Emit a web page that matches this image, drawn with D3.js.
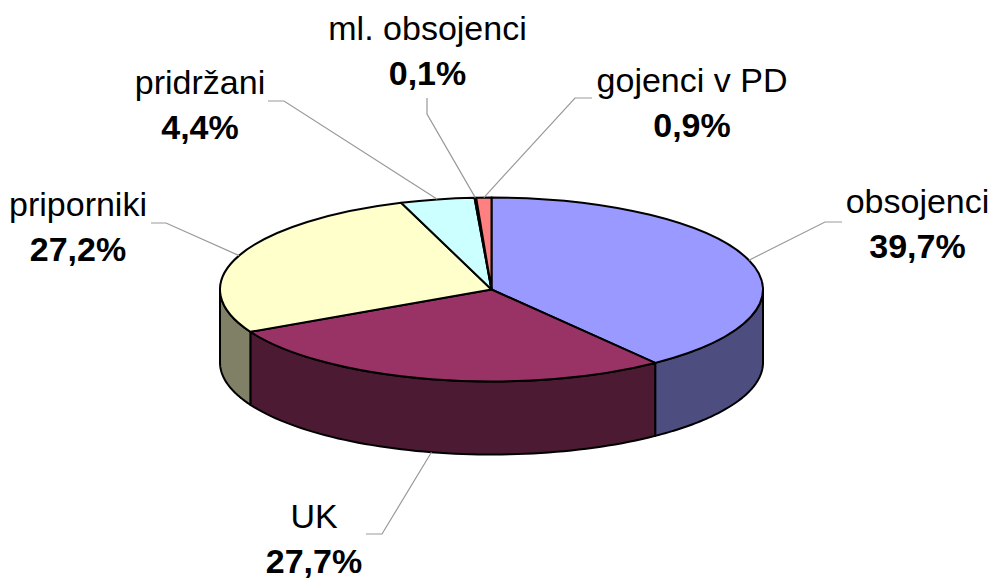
<!DOCTYPE html>
<html>
<head>
<meta charset="utf-8">
<script src="https://cdn.jsdelivr.net/npm/d3@7"></script>
<style>
  html, body { margin: 0; padding: 0; background: #fff; }
  svg { display: block; }
  text { font-family: "Liberation Sans", Arial, sans-serif; font-size: 34px; fill: #000; }
  .pct { font-weight: bold; }
</style>
</head>
<body>
<div id="chart"></div>
<script>
const categories = ["obsojenci", "UK", "priporniki", "pridržani", "ml. obsojenci", "gojenci v PD"];
const shares = [39.7, 27.7, 27.2, 4.4, 0.1, 0.9];
const shareLabels = ["39,7%", "27,7%", "27,2%", "4,4%", "0,1%", "0,9%"];
const topColors = ["#9999ff", "#993366", "#ffffcc", "#ccffff", "#660066", "#ff8080"];
const sideColors = ["#4d4d80", "#4d1a33", "#808066", "#668080", "#330033", "#804040"];

// where each label sits and where its leader line goes (elbow, then end)
const labelPos = [[917.5, 213], [314, 528], [78, 216], [200, 94], [427.5, 40], [692, 92]];
const leaderTail = [
  [[825, 222], [842, 222]],
  [[382, 534], [366, 534]],
  [[166, 223], [151, 223]],
  [[284, 101], [268, 101]],
  [[427, 114], [427, 98]],
  [[575, 98], [592, 98]]
];

const width = 994, height = 579;
const cx = 491.5, cy = 289.5, rx = 271.5, ry = 92, depth = 73;
const lineGap = 45;

const svg = d3.select("#chart").append("svg").attr("width", width).attr("height", height);

const pie = d3.pie().sort(null).value(d => d.share);
const slices = pie(categories.map((name, i) => ({
  name, share: shares[i], label: shareLabels[i], top: topColors[i], side: sideColors[i]
})));

const rim = (a, dy = 0) => [cx + rx * Math.sin(a), cy - ry * Math.cos(a) + dy];

// outer wall, only the part facing the viewer (PI/2 .. 3PI/2)
function wallPath(d) {
  const a0 = Math.max(d.startAngle, Math.PI / 2);
  const a1 = Math.min(d.endAngle, Math.PI * 1.5);
  if (a1 <= a0) return null;
  const angles = d3.range(0, 61).map(i => a0 + (a1 - a0) * i / 60);
  const pts = angles.map(a => rim(a)).concat(angles.slice().reverse().map(a => rim(a, depth)));
  return d3.line()(pts) + "Z";
}

svg.append("g").selectAll("path")
  .data(slices.filter(wallPath))
  .enter().append("path")
  .attr("d", wallPath)
  .attr("fill", d => d.data.side)
  .attr("stroke", "#000")
  .attr("stroke-width", 2)
  .attr("stroke-linejoin", "round");

const arc = d3.arc().innerRadius(0).outerRadius(rx);

svg.append("g")
  .attr("transform", `translate(${cx},${cy}) scale(1,${ry / rx})`)
  .selectAll("path")
  .data(slices)
  .enter().append("path")
  .attr("d", arc)
  .attr("fill", d => d.data.top)
  .attr("stroke", "#000")
  .attr("stroke-width", 2)
  .attr("stroke-linejoin", "round")
  .attr("vector-effect", "non-scaling-stroke");

// leader lines start at the rim mid angle, UK starts at the bottom of the wall
svg.append("g").selectAll("path")
  .data(slices)
  .enter().append("path")
  .attr("d", (d, i) => {
    const start = rim((d.startAngle + d.endAngle) / 2, d.data.name === "UK" ? depth : 0);
    return d3.line()([start, ...leaderTail[i]]);
  })
  .attr("fill", "none")
  .attr("stroke", "#999")
  .attr("stroke-width", 1.2);

const labels = svg.append("g").selectAll("text")
  .data(slices)
  .enter().append("text")
  .attr("text-anchor", "middle")
  .attr("transform", (d, i) => `translate(${labelPos[i][0]},${labelPos[i][1]})`);

labels.append("tspan").attr("x", 0).attr("y", 0).text(d => d.data.name);
labels.append("tspan").attr("class", "pct").attr("x", 0).attr("y", lineGap).text(d => d.data.label);
</script>
</body>
</html>
